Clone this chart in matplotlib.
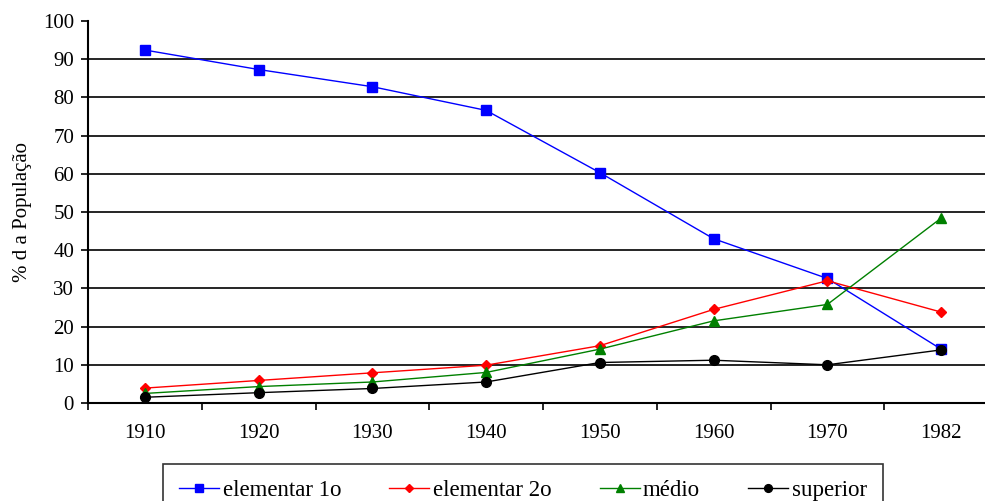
import numpy as np
import matplotlib
matplotlib.use("Agg")
import matplotlib.pyplot as plt

plt.rcParams['font.family'] = ['Liberation Serif', 'DejaVu Serif']

anos = ['1910', '1920', '1930', '1940', '1950', '1960', '1970', '1982']
elementar1 = [92.4, 87.3, 82.8, 76.6, 60.3, 43.0, 32.6, 14.1]
elementar2 = [3.9, 5.9, 7.9, 9.9, 15.0, 24.5, 32.0, 23.8]
medio = [2.5, 4.3, 5.5, 8.0, 14.1, 21.5, 25.8, 48.4]
superior = [1.5, 2.7, 3.8, 5.5, 10.6, 11.2, 10.0, 13.9]

fig = plt.figure(figsize=(9.85, 5.01), dpi=100)
ax = fig.add_axes([88/985, 98/501, 910/985, 382/501])

x = np.arange(len(anos))
ax.plot(x, elementar1, color='blue', lw=1, marker='s', ms=7, label='elementar 1o')
ax.plot(x, elementar2, color='red', lw=1, marker='D', ms=5, label='elementar 2o')
ax.plot(x, medio, color='green', lw=1, marker='^', ms=7, label='médio')
ax.plot(x, superior, color='black', lw=1, marker='o', ms=7, label='superior')

ax.set_xlim(-0.5, len(anos) - 0.5)
ax.set_ylim(0, 100)
ax.set_yticks(range(0, 101, 10))
ax.set_xticks(x)
ax.set_xticklabels(anos)
ax.set_xticks(np.arange(-0.5, len(anos), 1), minor=True)
ax.tick_params(axis='x', which='major', length=0, pad=15, labelsize=15)
ax.tick_params(axis='x', which='minor', length=5, width=1.2, direction='out')
ax.tick_params(axis='y', length=5, width=1.2, direction='out', labelsize=15, pad=5)

ax.yaxis.grid(True, color='black', lw=1.2)
ax.get_ygridlines()[-1].set_visible(False)
ax.set_axisbelow(True)
for s in ['top', 'right']:
    ax.spines[s].set_visible(False)
for s in ['left', 'bottom']:
    ax.spines[s].set_linewidth(1.5)

ax.set_ylabel('% d a População', fontsize=15, labelpad=8)

leg = fig.legend(loc='upper center', bbox_to_anchor=(523/985, 1 - 464/501),
                 ncol=4, frameon=True, fancybox=False, edgecolor='black',
                 fontsize=16.5, handlelength=1.75, handletextpad=0.15,
                 columnspacing=2.1, borderpad=0.7, borderaxespad=0,
                 markerscale=0.8)
leg.get_frame().set_linewidth(1.2)

fig.savefig('out.png', dpi=100)
